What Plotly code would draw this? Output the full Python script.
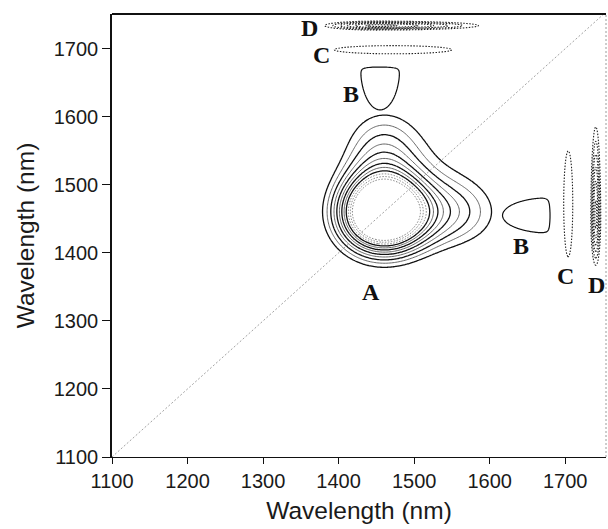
import numpy as np
import plotly.graph_objects as go

# ---- axes ----
x_range = [1100, 1754]
y_range = [1100, 1751]
tick_values = [1100, 1200, 1300, 1400, 1500, 1600, 1700]
axis_title = "Wavelength (nm)"

# ---- main band (auto-peak A): Gaussian core plus a long-wavelength shoulder ----
main_center = 1458
main_width = 38
shoulder_center = 1545
shoulder_width = 49
shoulder_amp = 0.226

# ---- contour levels (same spacing for every peak, sign gives line style) ----
level_start = 0.12
level_step = 0.045
level_end = 0.615

# ---- cross peaks B (positive), C and D (negative) ----
cross_labels = ["B", "C", "D"]
cross_amp = [0.155, -0.14, -0.36]
band_center_right = [1680, 1704, 1740.5]
band_center_top = [1673, 1698.5, 1734]
band_cutoff_right = [1682, None, None]
band_cutoff_top = [1675, None, None]
band_width = [88, 10.8, 4.4]
partner_center = [1455, 1472, 1450]
partner_width_low = [36.4, 140, 46]
partner_width_high = [36.4, 140, 91]

# ---- peak labels ----
label_text = ["A", "B", "C", "D", "B", "C", "D"]
label_x = [1443, 1417, 1378, 1362, 1642, 1701, 1741]
label_y = [1343, 1634, 1691, 1730, 1410, 1366, 1353]


def gauss(v, c, w):
    return np.exp(-0.5 * ((v - c) / w) ** 2)


def main_profile(v):
    return gauss(v, main_center, main_width) + shoulder_amp * gauss(v, shoulder_center, shoulder_width)


def band_profile(v, c, w, cutoff):
    p = gauss(v, c, w)
    if cutoff is not None:
        p = p / (1.0 + np.exp((v - cutoff) / 1.2))
    return p


def partner_profile(v, c, wl, wh):
    w = np.where(v < c, wl, wh)
    return np.exp(-0.5 * ((v - c) / w) ** 2)


# auto-peak A on its own grid
ga = np.arange(1330, 1642, 2.0)
GX, GY = np.meshgrid(ga, ga)
z_main = np.round(main_profile(GX) * main_profile(GY), 4)

# cross-peak field on a grid that is finer where the narrow bands sit
gc = np.concatenate([np.arange(1330, 1600, 2.5), np.arange(1600, 1690, 1.0), np.arange(1690, 1754.5, 0.5)])
CX, CY = np.meshgrid(gc, gc)
z_cross = np.zeros_like(CX)
for k in range(len(cross_labels)):
    right = band_profile(CX, band_center_right[k], band_width[k], band_cutoff_right[k]) * \
        partner_profile(CY, partner_center[k], partner_width_low[k], partner_width_high[k])
    top = band_profile(CY, band_center_top[k], band_width[k], band_cutoff_top[k]) * \
        partner_profile(CX, partner_center[k], partner_width_low[k], partner_width_high[k])
    z_cross += cross_amp[k] * (right + top)
z_cross = np.round(z_cross, 4)

fig = go.Figure()

# diagonal reference line
fig.add_trace(go.Scatter(x=x_range, y=x_range, mode="lines",
                         line=dict(color="#8a8a8a", width=0.8, dash="2px,2px"),
                         hoverinfo="skip", showlegend=False))


def contour(x, y, z, start, end, size, color, width, dash="solid"):
    return go.Contour(x=x, y=y, z=z, showscale=False, hoverinfo="skip",
                      autocontour=False,
                      contours=dict(start=start, end=end, size=size, coloring="none"),
                      line=dict(color=color, width=width, dash=dash, smoothing=1))


n_levels = int(round((level_end - level_start) / level_step)) + 1
levels = [level_start + i * level_step for i in range(n_levels)]
# A: alternating heavy / light lines, highest three dotted
fig.add_trace(contour(ga, ga, z_main, levels[0], levels[8] + 1e-6, 2 * level_step, "#111111", 1.3))
fig.add_trace(contour(ga, ga, z_main, levels[1], levels[7] + 1e-6, 2 * level_step, "#555555", 0.9))
fig.add_trace(contour(ga, ga, z_main, levels[9], levels[11] + 1e-6, level_step, "#777777", 0.9, "1.5px,1.5px"))

# cross peaks: positive solid, negative dotted
fig.add_trace(contour(gc, gc, z_cross, level_start, level_end, level_step, "#111111", 1.2))
fig.add_trace(contour(gc, gc, z_cross, -level_end, -level_start + 1e-6, level_step, "#222222", 1.1, "1.5px,1.5px"))

for t, lx, ly in zip(label_text, label_x, label_y):
    fig.add_annotation(x=lx, y=ly, text="<b>%s</b>" % t, showarrow=False,
                       font=dict(family="Liberation Serif, Times New Roman, serif", size=24, color="#111111"),
                       xanchor="center", yanchor="middle")

axis_font = dict(family="Liberation Sans, Arial, Helvetica, sans-serif", size=20, color="#1a1a1a")
title_font = dict(family="Liberation Sans, Arial, Helvetica, sans-serif", size=24.5, color="#1a1a1a")

fig.update_xaxes(range=x_range, tickvals=tick_values, ticks="outside", ticklen=6, tickwidth=1.2,
                 tickcolor="#111111", showline=True, linecolor="#111111", linewidth=1.2,
                 showgrid=False, zeroline=False, tickfont=axis_font,
                 title=dict(text=axis_title, font=title_font, standoff=10))
fig.update_yaxes(range=y_range, tickvals=tick_values, ticks="outside", ticklen=8, tickwidth=1.2,
                 tickcolor="#111111", showline=True, linecolor="#111111", linewidth=1.5,
                 showgrid=False, zeroline=False, tickfont=axis_font,
                 title=dict(text=axis_title, font=title_font, standoff=12))

# frame: heavy top edge, faint right edge
fig.add_shape(type="line", xref="paper", yref="paper", x0=0, x1=1, y0=1, y1=1,
              line=dict(color="#111111", width=2.2))
fig.add_shape(type="line", xref="paper", yref="paper", x0=1, x1=1, y0=0, y1=1,
              line=dict(color="#9a9a9a", width=1, dash="2px,2px"))

fig.update_layout(width=608, height=529, margin=dict(l=112, r=2, t=14, b=72),
                  paper_bgcolor="white", plot_bgcolor="white", showlegend=False)

fig.write_html("out.html")
